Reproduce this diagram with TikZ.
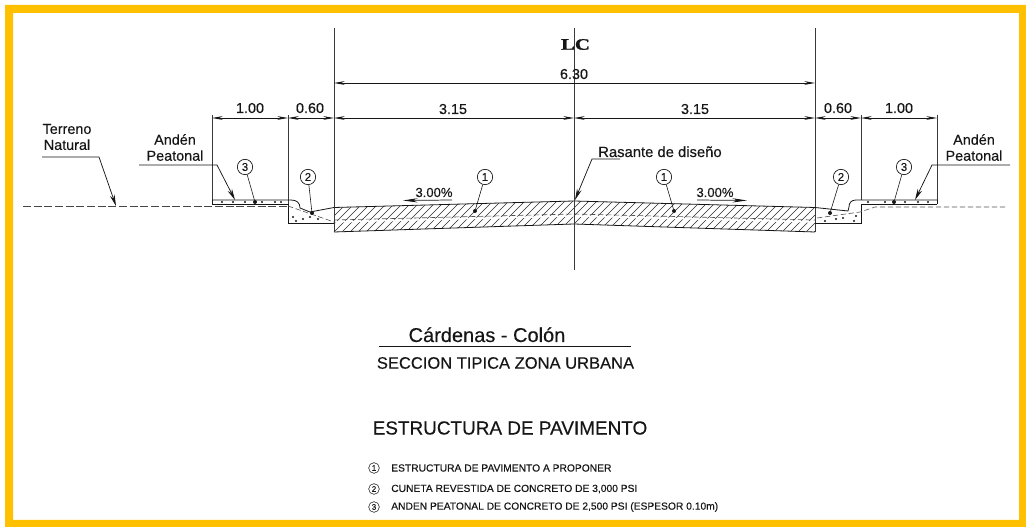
\documentclass[tikz,border=0pt]{standalone}
\usepackage{fontspec}
\usepackage{graphicx}
\setmainfont{Liberation Sans}[FakeBold=0.25]
\newfontfamily\lcfont{Liberation Serif Bold}[FakeBold=1.2]
\usetikzlibrary{arrows.meta,calc}
\definecolor{frameyellow}{HTML}{FFC000}
\definecolor{ink}{HTML}{161616}
\tikzset{
  thinline/.style={draw=ink,line width=0.6pt},
  extline/.style={draw=ink!85,line width=0.65pt},
  dimline/.style={draw=ink,line width=0.6pt,{Stealth[length=8pt,width=2.8pt]}-{Stealth[length=8pt,width=2.8pt]}},
  calloutline/.style={draw=ink,line width=0.55pt,-{Stealth[length=8.5pt,width=3.6pt]}},
  slopearrow/.style={draw=ink,line width=0.55pt,-{Stealth[length=11pt,width=3.2pt]}},
  groundline/.style={draw=ink!80,line width=0.55pt,dash pattern=on 6pt off 2pt},
  hiddenline/.style={draw=ink!75,line width=0.45pt,dash pattern=on 4pt off 2pt},
  hatchline/.style={draw=ink!90,line width=0.45pt},
  lab/.style={text=ink,font=\fontsize{10.8pt}{12pt}\selectfont,inner sep=0pt,anchor=base},
  labc/.style={text=ink,font=\fontsize{10.8pt}{12pt}\selectfont,inner sep=0pt,align=center},
  nummark/.style={draw=ink,line width=0.5pt,circle,inner sep=0pt,minimum size=11.5pt,text=ink,font=\fontsize{8.5pt}{9pt}\selectfont},
  legmark/.style={draw=ink,line width=0.4pt,circle,inner sep=0pt,minimum size=8pt,text=ink,font=\fontsize{6pt}{7pt}\selectfont},
  legtext/.style={text=ink,font=\fontsize{7.7pt}{9pt}\selectfont,inner sep=0pt,anchor=west},
  leader/.style={draw=ink,line width=0.45pt},
  speck/.style={fill=ink,circle,inner sep=0pt,minimum size=1.6pt},
  leaddot/.style={fill=ink,circle,inner sep=0pt,minimum size=3pt},
}
\begin{document}
\begin{tikzpicture}[x=0.75pt,y=-0.75pt]
\useasboundingbox (0,0) rectangle (1026,527);
\fill[white] (0,0) rectangle (1026,527);
\fill[frameyellow,even odd rule] (5,5) rectangle (1026,527) (13,13) rectangle (1019,520);

% hatched pavement
\begin{scope}
\clip (334,207.5) -- (574,201) -- (815,207.5) -- (815,232) -- (574,224) -- (334,232) -- cycle;
\foreach \hx in {270,278,...,830}{
  \draw[hatchline] (\hx,240) -- (\hx+45,195);
}
\draw[white,line width=1.1pt] (334,222) -- (574,216) -- (815,222);
\draw[hiddenline] (334,220) -- (574,214) -- (815,220);
\end{scope}
\draw[thinline] (334,207.5) -- (574,201) -- (815,207.5);
\draw[thinline] (334,232) -- (574,224) -- (815,232);

% extension lines
\coordinate (xa) at (212,115);  \coordinate (xab) at (212,203);
\coordinate (xb) at (288,115);  \coordinate (xbb) at (288,204);
\coordinate (xc) at (334,28);   \coordinate (xcb) at (334,232);
\coordinate (cl) at (574,28);   \coordinate (clb) at (574,270);
\coordinate (xd) at (815,28);   \coordinate (xdb) at (815,232);
\coordinate (xe) at (861,115);  \coordinate (xeb) at (861,200);
\coordinate (xf) at (937,115);  \coordinate (xfb) at (937,203);
\foreach \p/\q in {xa/xab,xb/xbb,xc/xcb,cl/clb,xd/xdb,xe/xeb,xf/xfb}{\draw[extline] (\p) -- (\q);}

% dimension lines
\draw[dimline] (334,83) -- (815,83);
\draw[dimline] (212,118) -- (288,118);
\draw[dimline] (288,118) -- (334,118);
\draw[dimline] (334,118) -- (574,118);
\draw[dimline] (574,118) -- (815,118);
\draw[dimline] (815,118) -- (861,118);
\draw[dimline] (861,118) -- (937,118);

\node[lab] (d630) at (574,79) {6.30};
\node[lab] (d100l) at (250,113) {1.00};
\node[lab] (d060l) at (310,113) {0.60};
\node[lab] (d315l) at (453,114) {3.15};
\node[lab] (d315r) at (695,114) {3.15};
\node[lab] (d060r) at (838,113) {0.60};
\node[lab] (d100r) at (899,113) {1.00};
\node[text=ink,inner sep=0pt] (lc) at (575.5,44.5) {\scalebox{1.3}[1]{\lcfont\fontsize{12pt}{13pt}\selectfont LC}};

% left sidewalk, curb and gutter
\draw[thinline] (212,200) -- (291,200) .. controls (297,200) and (300,203) .. (300,208) -- (310,212) -- (334,207.5);
\draw[thinline] (212,204) -- (288,204) -- (288,223) -- (334,223);
\draw[thinline] (212,200) -- (212,204);
% right sidewalk, curb and gutter
\draw[thinline] (937,200) -- (856,200) .. controls (851,200) and (849,203) .. (849,207) -- (848,211) -- (815,207.5);
\draw[thinline] (937,204) -- (861,204) -- (861,223) -- (815,223);
\draw[thinline] (937,200) -- (937,204);

% ground and hidden lines
\draw[groundline] (23,206) -- (288,206);
\draw[hiddenline] (288,206) -- (334,222);
\draw[hiddenline] (817,218) -- (860,212) -- (875,207) -- (1007,207);

% specks
\foreach \sx/\sy in {222/202,233/202,245/202,262/202,275/202,281/202,293/217,296/221,303/219,310/217,318/219,
                     868/202,885/202,905/202,918/202,928/202,836/219,843/218,856/216,854/221,825/221}{
  \node[speck] at (\sx,\sy) {};
}

% callouts
\coordinate (tn1) at (42,157);  \coordinate (tn2) at (99,157);  \coordinate (tnt) at (116,206);
\coordinate (al1) at (139,165); \coordinate (al2) at (217,165); \coordinate (alt) at (235,200);
\coordinate (ar1) at (1010,165);\coordinate (ar2) at (932,165); \coordinate (art) at (915,200);
\coordinate (ra1) at (620,159); \coordinate (ra2) at (592,159); \coordinate (rat) at (575,200);
\draw[calloutline] (tn1) -- (tn2) -- (tnt);
\draw[calloutline] (al1) -- (al2) -- (alt);
\draw[calloutline] (ar1) -- (ar2) -- (art);
\draw[calloutline] (ra1) -- (ra2) -- (rat);
\node[labc] (terreno) at (67,137) {Terreno\\Natural};
\node[labc] (andenl) at (175,147.5) {Andén\\Peatonal};
\node[labc] (andenr) at (974,147.5) {Andén\\Peatonal};
\node[lab,anchor=base west,font=\fontsize{11.1pt}{12pt}\selectfont] (rasante) at (598,157) {Rasante de diseño};

% slopes
\coordinate (sl1) at (452,200); \coordinate (slt) at (403,200.5);
\coordinate (sr1) at (697,200); \coordinate (srt) at (747,200.5);
\draw[slopearrow] (sl1) -- (slt);
\draw[slopearrow] (sr1) -- (srt);
\node[text=ink,font=\fontsize{9.8pt}{11pt}\selectfont,inner sep=0pt,anchor=base] (sll) at (434,197) {3.00\%};
\node[text=ink,font=\fontsize{9.8pt}{11pt}\selectfont,inner sep=0pt,anchor=base] (srl) at (715,197) {3.00\%};

% numbered markers
\node[nummark] (m3l) at (245,167) {3};
\node[nummark] (m2l) at (308,177) {2};
\node[nummark] (m1l) at (485,177) {1};
\node[nummark] (m1r) at (664,177) {1};
\node[nummark] (m2r) at (841,177) {2};
\node[nummark] (m3r) at (904,167) {3};
\node[leaddot] (p3l) at (255,202) {};
\node[leaddot] (p2l) at (312,213) {};
\node[leaddot] (p1l) at (475,211) {};
\node[leaddot] (p1r) at (674,211) {};
\node[leaddot] (p2r) at (830,213) {};
\node[leaddot] (p3r) at (894,202) {};
\foreach \m/\p in {m3l/p3l,m2l/p2l,m1l/p1l,m1r/p1r,m2r/p2r,m3r/p3r}{\draw[leader] (\m) -- (\p);}

% titles
\node[text=ink,font=\fontsize{15pt}{17pt}\selectfont,inner sep=0pt,anchor=base] (t1) at (487,342) {Cárdenas - Colón};
\coordinate (u1) at (379,346); \coordinate (u2) at (631,346);
\draw[thinline] (u1) -- (u2);
\node[text=ink,font=\fontsize{12.4pt}{14pt}\selectfont,inner sep=0pt] (t2) at (505.5,363) {SECCION TIPICA ZONA URBANA};
\node[text=ink,font=\fontsize{14.2pt}{15pt}\selectfont,inner sep=0pt] (t3) at (510,428) {ESTRUCTURA DE PAVIMENTO};

% legend
\node[legmark] (l1) at (374,468) {1};
\node[legmark] (l2) at (374,489) {2};
\node[legmark] (l3) at (374,507) {3};
\node[legtext] (lt1) at (391,468) {ESTRUCTURA DE PAVIMENTO A PROPONER};
\node[legtext] (lt2) at (391,489) {CUNETA REVESTIDA DE CONCRETO DE 3,000 PSI};
\node[legtext] (lt3) at (391,507) {ANDEN PEATONAL DE CONCRETO DE 2,500 PSI (ESPESOR 0.10m)};
\end{tikzpicture}
\end{document}
